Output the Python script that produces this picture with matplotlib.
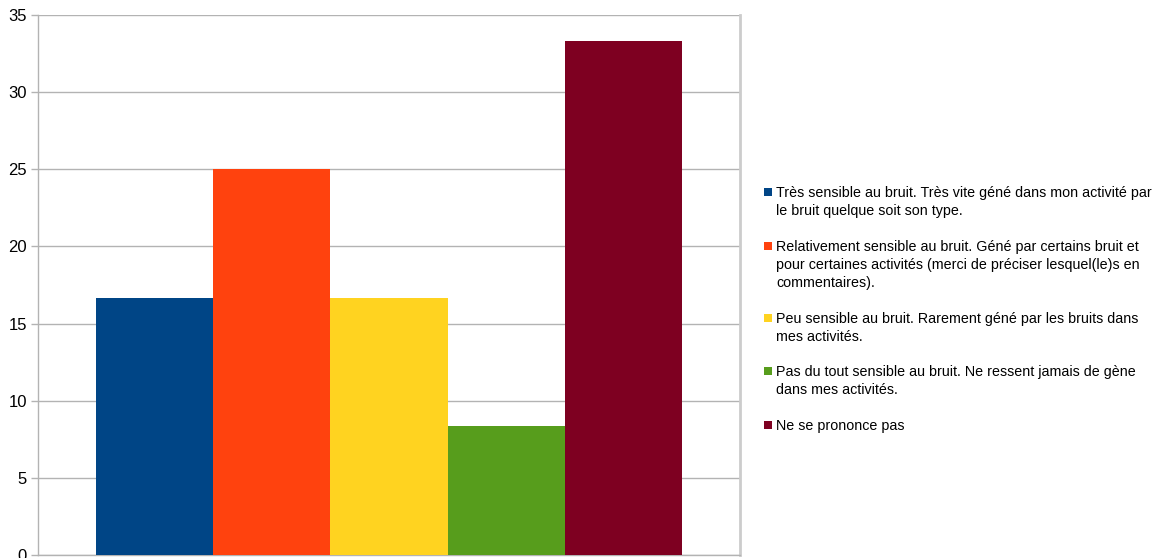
import matplotlib
matplotlib.use("Agg")
import matplotlib.pyplot as plt
from matplotlib.patches import Rectangle

plt.rcParams['font.family'] = ['Liberation Sans', 'DejaVu Sans']

# Survey answers (percentage of respondents)
labels = [
    "Très sensible au bruit. Très vite géné dans mon activité par\nle bruit quelque soit son type.",
    "Relativement sensible au bruit. Géné par certains bruit et\npour certaines activités (merci de préciser lesquel(le)s en\ncommentaires).",
    "Peu sensible au bruit. Rarement géné par les bruits dans\nmes activités.",
    "Pas du tout sensible au bruit. Ne ressent jamais de gène\ndans mes activités.",
    "Ne se prononce pas",
]
values = [16.67, 25.0, 16.67, 8.33, 33.33]
colors = ["#004586", "#ff420e", "#ffd320", "#579d1c", "#7e0021"]
yticks = [0, 5, 10, 15, 20, 25, 30, 35]

W, H = 1164, 558
fig = plt.figure(figsize=(W / 100, H / 100), dpi=100)
ax = fig.add_axes([38 / W, 3 / H, 702 / W, 540 / H])

positions = list(range(len(values)))
ax.bar(positions, values, width=1.0, color=colors, zorder=3)

ax.set_ylim(0, 35)
ax.set_xlim(-0.995, len(values) - 1 + 0.995)
ax.set_yticks(yticks)
ax.set_xticks([])
ax.yaxis.grid(True, color="#b3b3b3", linewidth=1.0, zorder=0)
ax.tick_params(axis="y", length=5, color="#b3b3b3", width=1.0,
               labelsize=12, labelcolor="#000000", pad=3)
ax.spines["top"].set_visible(False)
ax.spines["left"].set_color("#b3b3b3")
ax.spines["bottom"].set_color("#b3b3b3")
ax.spines["right"].set_color("#cccccc")
ax.spines["right"].set_linewidth(2.0)
for s in ("left", "bottom"):
    ax.spines[s].set_linewidth(1.0)

# Legend drawn on the right, one square marker per series
line_h = 18.3
gap = 17.0
y = 192.0
for lab, col in zip(labels, colors):
    lines = lab.split("\n")
    fig.patches.append(Rectangle((764 / W, 1 - (y + 4) / H), 8 / W, 8 / H,
                                 transform=fig.transFigure, facecolor=col,
                                 edgecolor="none"))
    for i, ln in enumerate(lines):
        yy = y + i * line_h
        fig.text(776 / W, 1 - (yy + 1) / H, ln, fontsize=10.3, color="#000000",
                 va="center", ha="left")
    y += len(lines) * line_h + gap

fig.savefig("out.png", dpi=100)
